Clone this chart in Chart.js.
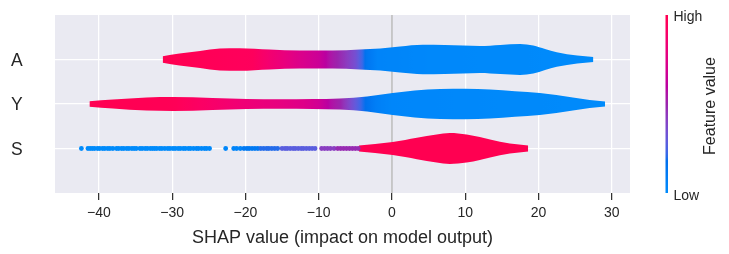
<!DOCTYPE html>
<html><head><meta charset="utf-8">
<script src="https://cdn.jsdelivr.net/npm/chart.js@4/dist/chart.umd.min.js"></script>
<style>html,body{margin:0;padding:0;background:#fff;}#wrap{width:729px;height:254px;position:relative;}</style>
</head><body><div id="wrap"><canvas id="c" width="729" height="254"></canvas></div>
<script>
// ---------- data ----------
const featureNames = ['S', 'Y', 'A'];            // rows 0,1,2 (bottom to top)
const xTicks = [-40, -30, -20, -10, 0, 10, 20, 30];
const xTitle = 'SHAP value (impact on model output)';
const cbHigh = 'High', cbLow = 'Low', cbTitle = 'Feature value';

// Violin A (row 2): x positions and half-widths (row units)
const aX    = [-31.3, -29.0, -26.2, -23.5, -20.8, -16.7, -12.6, -8.1, -4.4, -1.6, 1.1, 4.2, 7.2, 9.7, 12.0, 14.8, 17.5, 19.3, 20.9, 22.5, 25.3, 27.5];
const aHalf = [0.074, 0.135, 0.19, 0.247, 0.254, 0.225, 0.202, 0.202, 0.225, 0.247, 0.292, 0.33, 0.326, 0.315, 0.303, 0.326, 0.348, 0.315, 0.236, 0.164, 0.09, 0.056];
const aColorX = [-31.3, -19, -16.7, -12.6, -10, -8.5, -6.5, -5, -3.5, -2, 5, 27.5];
const aColorV = [1, 0.95, 0.86, 0.73, 0.66, 0.56, 0.45, 0.35, 0.15, 0.05, 0.02, 0];

// Violin Y (row 1)
const yX    = [-41.3, -38.1, -33.5, -29.9, -24.5, -19.8, -15.3, -10.8, -7.1, -3.4, 0.1, 3.1, 6.6, 10.0, 13.4, 16.8, 20.2, 24.7, 27.0, 29.1];
const yHalf = [0.061, 0.10, 0.146, 0.157, 0.135, 0.112, 0.106, 0.112, 0.124, 0.169, 0.247, 0.303, 0.337, 0.342, 0.326, 0.288, 0.247, 0.146, 0.09, 0.056];
const yColorX = [-41.3, -30, -25, -20, -15, -12, -10, -8.5, -7, -5.5, -4, -2, 0, 29.1];
const yColorV = [1, 0.98, 0.9, 0.83, 0.78, 0.74, 0.68, 0.58, 0.5, 0.35, 0.2, 0.08, 0.03, 0];

// Violin S (row 0)
const sX    = [-4.5, -2.3, 0.1, 1.8, 3.4, 6.1, 7.9, 10.2, 12.0, 13.4, 16.1, 18.6];
const sHalf = [0.067, 0.10, 0.146, 0.19, 0.24, 0.315, 0.348, 0.315, 0.258, 0.202, 0.112, 0.067];
const sColorX = [-4.5, 18.6];
const sColorV = [1, 1];

// Individual points of S (row 0)
const sDotsX = [
  -42.4,
  -41.5, -41.2, -40.9, -40.6, -40.2, -39.9, -39.5, -39.2, -38.8, -38.5, -38.1,
  -37.6, -37.3, -36.9, -36.6, -36.2, -35.9, -35.5, -35.2, -34.9,
  -34.4, -34.1, -33.7, -33.4, -33.0, -32.7, -32.4,
  -32.1, -31.7, -31.4, -31.0, -30.6, -30.3, -29.9, -29.6, -29.2, -28.9, -28.5, -28.2, -27.8, -27.5, -27.1,
  -26.7, -26.4, -26.0, -25.6, -25.3, -24.9,
  -22.7,
  -21.6, -21.2, -20.7,
  -20.2, -19.8, -19.5, -19.1, -18.7, -18.3,
  -17.9, -17.5, -17.1, -16.8, -16.4, -16.0, -15.6,
  -15.0, -14.6, -14.3, -13.9, -13.5, -13.2, -12.8, -12.4, -12.1, -11.7, -11.3, -10.9, -10.5,
  -9.6, -9.2, -8.8, -8.4, -7.9,
  -7.4, -7.0, -6.6, -6.2, -5.8, -5.4, -5.0, -4.6
];
const sDotsV = [
  0,
  0, 0, 0, 0, 0, 0, 0, 0, 0, 0, 0,
  0, 0, 0, 0, 0, 0, 0, 0, 0,
  0, 0, 0, 0, 0, 0, 0,
  0, 0, 0, 0, 0, 0, 0, 0, 0, 0, 0, 0, 0, 0, 0,
  0.02, 0.02, 0.02, 0.02, 0.02, 0.02,
  0.03,
  0.05, 0.05, 0.05,
  0.12, 0.12, 0.12, 0.12, 0.12, 0.12,
  0.2, 0.2, 0.2, 0.2, 0.2, 0.2, 0.2,
  0.28, 0.28, 0.28, 0.28, 0.28, 0.28, 0.28, 0.28, 0.28, 0.28, 0.28, 0.28, 0.28,
  0.42, 0.42, 0.42, 0.42, 0.42,
  0.48, 0.48, 0.48, 0.48, 0.48, 0.48, 0.48, 0.48
];

// ---------- colour map (shap red_blue, LCH interpolation) ----------
function lch2rgb(L, C, H) {
  const a = C * Math.cos(H), b = C * Math.sin(H);
  const fy = (L + 16) / 116, fx = fy + a / 500, fz = fy - b / 200;
  const finv = t => t > 6 / 29 ? t * t * t : (t - 16 / 116) / 7.787;
  const X = 0.95047 * finv(fx), Y = finv(fy), Z = 1.08883 * finv(fz);
  const r = 3.2406 * X - 1.5372 * Y - 0.4986 * Z;
  const g = -0.9689 * X + 1.8758 * Y + 0.0415 * Z;
  const bl = 0.0557 * X - 0.2040 * Y + 1.0570 * Z;
  const gam = c => { c = c <= 0.0031308 ? 12.92 * c : 1.055 * Math.pow(Math.max(c, 0), 1 / 2.4) - 0.055; return Math.round(Math.min(1, Math.max(0, c)) * 255); };
  return [gam(r), gam(g), gam(bl)];
}
function cmap(v) {
  v = Math.min(1, Math.max(0, v));
  const L = v < 0.5 ? 54 + (40 - 54) * (v / 0.5) : 40 + (54 - 40) * ((v - 0.5) / 0.5);
  const C = 70 + 20 * v;
  const H = 4.6588 + v * (0.35470565 + 2 * Math.PI - 4.6588);
  const c = lch2rgb(L, C, H);
  return `rgb(${c[0]},${c[1]},${c[2]})`;
}

function violinFill(xs, vs) {
  return (ctx) => {
    const chart = ctx.chart, area = chart.chartArea, sx = chart.scales.x;
    if (!area || !sx) return 'rgba(0,0,0,0)';
    const W = area.right - area.left;
    const g = chart.ctx.createLinearGradient(area.left, 0, area.right, 0);
    for (let i = 0; i < xs.length - 1; i++) {
      const n = 10;
      for (let k = 0; k <= n; k++) {
        const t = k / n;
        const x = xs[i] + (xs[i + 1] - xs[i]) * t;
        const v = vs[i] + (vs[i + 1] - vs[i]) * t;
        const p = (sx.getPixelForValue(x) - area.left) / W;
        g.addColorStop(Math.min(1, Math.max(0, p)), cmap(v));
      }
    }
    return g;
  };
}

function violinDatasets(row, xs, half, cx, cv) {
  const fill = violinFill(cx, cv);
  const common = { borderWidth: 0, borderColor: 'rgba(0,0,0,0)', pointRadius: 0, cubicInterpolationMode: 'monotone', backgroundColor: fill, order: 5 };
  return [
    Object.assign({ data: xs.map((x, i) => ({ x, y: row + half[i] })), fill: false }, common),
    Object.assign({ data: xs.map((x, i) => ({ x, y: row - half[i] })), fill: '-1' }, common)
  ];
}

const FONT = "'Liberation Sans', Arial, sans-serif";
const TXT = '#262626';

const bgPlugin = {
  id: 'bg',
  beforeDraw(chart) {
    const { ctx, chartArea: a } = chart;
    ctx.save(); ctx.fillStyle = '#eaeaf2';
    ctx.fillRect(a.left, a.top, a.right - a.left, a.bottom - a.top);
    ctx.restore();
  }
};
const colorbarPlugin = {
  id: 'colorbar',
  afterDraw(chart) {
    const { ctx, chartArea: a } = chart;
    const x0 = a.right + 35.5, w = 2.5, top = a.top, bot = a.bottom;
    const g = ctx.createLinearGradient(0, bot, 0, top);
    for (let k = 0; k <= 50; k++) g.addColorStop(k / 50, cmap(k / 50));
    ctx.save();
    ctx.fillStyle = g; ctx.fillRect(x0, top, w, bot - top);
    ctx.fillStyle = TXT; ctx.font = `14px ${FONT}`;
    ctx.textAlign = 'left'; ctx.textBaseline = 'middle';
    ctx.fillText(cbHigh, x0 + 8, top + 2);
    ctx.fillText(cbLow, x0 + 8, bot + 3);
    ctx.font = `16px ${FONT}`;
    ctx.translate(x0 + 45, (top + bot) / 2 + 2);
    ctx.rotate(-Math.PI / 2);
    ctx.textAlign = 'center';
    ctx.fillText(cbTitle, 0, 0);
    ctx.restore();
  }
};

const datasets = [
  { data: [{ x: 0, y: -1 }, { x: 0, y: 3 }], borderColor: '#999999', borderWidth: 1, pointRadius: 0, tension: 0, fill: false, order: 10 },
  ...violinDatasets(2, aX, aHalf, aColorX, aColorV),
  ...violinDatasets(1, yX, yHalf, yColorX, yColorV),
  ...violinDatasets(0, sX, sHalf, sColorX, sColorV),
  { data: sDotsX.map(x => ({ x, y: 0 })), showLine: false, pointRadius: 2.4, pointBorderWidth: 0,
    pointBorderColor: 'rgba(0,0,0,0)', pointBackgroundColor: sDotsV.map(cmap), order: 1 }
];

new Chart(document.getElementById('c'), {
  type: 'line',
  data: { datasets },
  options: {
    responsive: false, animation: false, devicePixelRatio: 1,
    layout: { padding: { top: 15, right: 99, left: 11, bottom: 0 } },
    plugins: { legend: { display: false }, tooltip: { enabled: false } },
    scales: {
      x: {
        type: 'linear', min: -46, max: 32.5,
        afterBuildTicks: s => { s.ticks = xTicks.map(v => ({ value: v })); },
        afterFit: s => { s.height = 61; },
        grid: { color: '#ffffff', lineWidth: 1.25, drawTicks: true, tickLength: 7, tickColor: '#333333', tickWidth: 1.25 },
        border: { display: false },
        ticks: { autoSkip: false, maxRotation: 0, color: TXT, font: { family: FONT, size: 14 }, padding: 5,
          callback: v => v < 0 ? '\u2212' + Math.abs(v) : String(v) },
        title: { display: true, text: xTitle, color: TXT, font: { family: FONT, size: 18 }, padding: { top: 0, bottom: 5 } }
      },
      y: {
        type: 'linear', min: -1, max: 3,
        afterBuildTicks: s => { s.ticks = [0, 1, 2].map(v => ({ value: v })); },
        afterFit: s => { s.width = 44; },
        grid: { color: '#ffffff', lineWidth: 1.25, drawTicks: false },
        border: { display: false },
        ticks: { color: TXT, font: { family: FONT, size: 17.5 }, padding: 0, labelOffset: 1.5, crossAlign: 'far', callback: v => featureNames[v] }
      }
    }
  },
  plugins: [bgPlugin, colorbarPlugin]
});
</script></body></html>
